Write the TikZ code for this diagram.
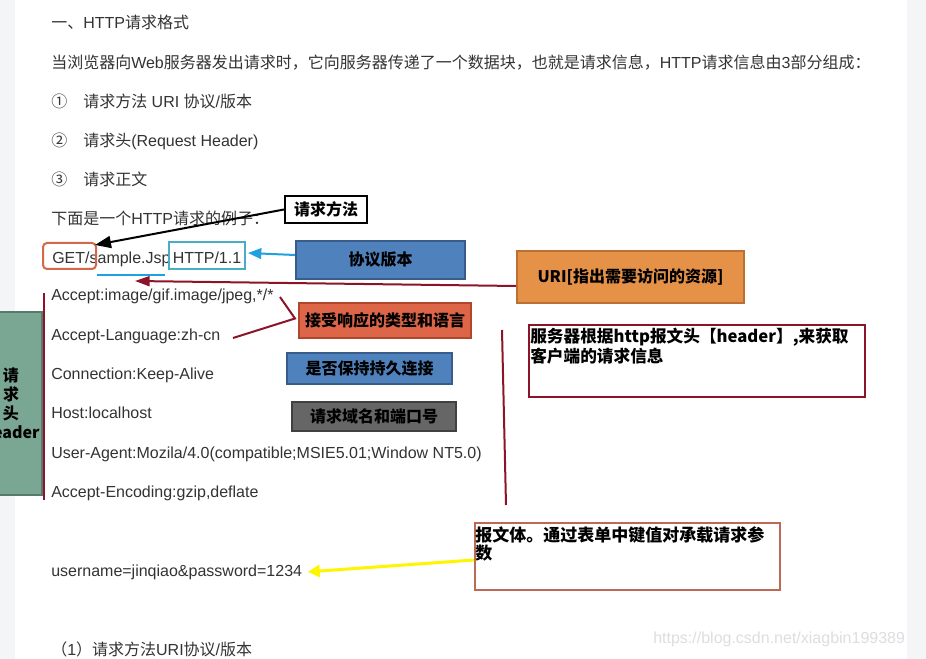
\documentclass[tikz,border=0pt]{standalone}
\usepackage{fontspec}
\setmainfont{Liberation Sans}
\newfontfamily\cjk{Noto Sans CJK SC}
\newcommand{\zh}[1]{{\cjk #1}}
\usetikzlibrary{arrows.meta}
\definecolor{pagegray}{RGB}{244,245,247}
\definecolor{bodytext}{RGB}{51,51,51}
\definecolor{boxblue}{RGB}{79,129,189}
\definecolor{boxblueline}{RGB}{56,93,138}
\definecolor{boxorange}{RGB}{230,145,72}
\definecolor{boxorangeline}{RGB}{185,112,50}
\definecolor{boxred}{RGB}{221,101,72}
\definecolor{boxredline}{RGB}{178,70,45}
\definecolor{boxgray}{RGB}{102,102,102}
\definecolor{boxgrayline}{RGB}{64,64,64}
\definecolor{boxgreen}{RGB}{122,166,148}
\definecolor{boxgreenline}{RGB}{88,122,108}
\definecolor{wine}{RGB}{140,20,40}
\definecolor{arrowblue}{RGB}{30,160,225}
\definecolor{getmarkline}{RGB}{210,105,75}
\definecolor{httpline}{RGB}{75,172,198}
\definecolor{payloadline}{RGB}{190,105,85}
\definecolor{marker}{RGB}{255,245,0}
\definecolor{watermark}{RGB}{222,222,224}
\tikzset{
  txt/.style={anchor=base west,inner sep=0pt,text=bodytext,font=\fontsize{12}{14}\selectfont},
  tagbox/.style={draw,line width=1.5pt,inner sep=0pt,font=\cjk\bfseries\fontsize{12}{14}\selectfont},
  notebox/.style={draw,line width=1.5pt,fill=white,inner sep=0pt},
  notetext/.style={anchor=north west,inner sep=0pt,align=left,font=\cjk\bfseries\fontsize{12.5}{13.5}\selectfont},
  link/.style={line width=1.5pt},
}
\begin{document}
\begin{tikzpicture}[x=0.75pt,y=-0.75pt]
\useasboundingbox (0,0) rectangle (926,659);
\clip (0,0) rectangle (926,659);
\fill[pagegray] (0,0) rectangle (926,659);
\fill[white] (15,0) rectangle (907,659);

\node[txt] (title) at (51,29) {\zh{一、}HTTP\zh{请求格式}};
\node[txt] (intro) at (51,69) {\zh{当浏览器向}Web\zh{服务器发出请求时，它向服务器传递了一个数据块，也就是请求信息，}HTTP\zh{请求信息由}3\zh{部分组成：}};
\node[txt] (n1) at (51,108) {\zh{①}};
\node[txt] (part1) at (83,108) {\zh{请求方法} URI \zh{协议}/\zh{版本}};
\node[txt] (n2) at (51,147) {\zh{②}};
\node[txt] (part2) at (83,147) {\zh{请求头}(Request Header)};
\node[txt] (n3) at (51,186) {\zh{③}};
\node[txt] (part3) at (83,186) {\zh{请求正文}};
\node[txt] (example) at (51,225) {\zh{下面是一个}HTTP\zh{请求的例子：}};
\node[txt] (reqline) at (52,263.5) {GET/sample.Jsp};
\node[txt,anchor=base,draw=httpline,line width=1.5pt,minimum width=57pt,text height=15.75pt,text depth=4.5pt] (http) at (207,263.5) {HTTP/1.1};
\node[draw=getmarkline,line width=1.5pt,rounded corners=3pt,minimum width=39.75pt,minimum height=19.5pt] (getmark) at (69.5,256) {};
\node[txt] (haccept) at (51,301) {Accept:image/gif.image/jpeg,*/*};
\node[txt] (hlang) at (51,341) {Accept-Language:zh-cn};
\node[txt] (hconn) at (51,380) {Connection:Keep-Alive};
\node[txt] (hhost) at (51,419) {Host:localhost};
\node[txt] (hagent) at (51,459) {User-Agent:Mozila/4.0(compatible;MSIE5.01;Window NT5.0)};
\node[txt] (henc) at (51,498) {Accept-Encoding:gzip,deflate};
\node[txt] (user) at (51,576) {username=jinqiao\&password=1234};
\node[txt] (section) at (51,656) {\zh{（}1\zh{）请求方法}URI\zh{协议}/\zh{版本}};
\node[txt,text=watermark,font=\fontsize{12}{14}\selectfont] (mark) at (653,643) {https://blog.csdn.net/xiagbin199389};

\node[tagbox,fill=white,minimum width=61.5pt,minimum height=20.25pt] (method) at (326,209.5) {请求方法};
\node[tagbox,draw=boxblueline,fill=boxblue,minimum width=126.75pt,minimum height=28.5pt] (version) at (380.5,260) {协议版本};
\node[tagbox,draw=boxorangeline,fill=boxorange,minimum width=170.25pt,minimum height=39pt] (uri) at (630.5,277) {URI[指出需要访问的资源]};
\node[tagbox,draw=boxredline,fill=boxred,minimum width=129pt,minimum height=26.25pt] (mime) at (385,320.5) {接受响应的类型和语言};
\node[tagbox,draw=boxblueline,fill=boxblue,minimum width=123.75pt,minimum height=23.25pt] (keep) at (369.5,368.5) {是否保持持久连接};
\node[tagbox,draw=boxgrayline,fill=boxgray,minimum width=123pt,minimum height=21.75pt] (host) at (374,416.5) {请求域名和端口号};
\node[tagbox,draw=boxgreenline,fill=boxgreen,align=center,font=\cjk\bfseries\fontsize{12}{14.25}\selectfont,minimum width=46.5pt,minimum height=137.25pt] (header) at (11,403.5) {请\\求\\头\\header};

\node[notebox,draw=wine,minimum width=252pt,minimum height=54pt] (server) at (697,361) {};
\node[notetext] (servertext) at ([shift={(2,4)}]server.north west) {服务器根据http报文头【header】,来获取\\客户端的请求信息};
\node[notebox,draw=payloadline,minimum width=228.75pt,minimum height=50.25pt] (payload) at (627.5,556.5) {};
\node[notetext,font=\cjk\bfseries\fontsize{12.75}{13.5}\selectfont] (payloadtext) at ([shift={(1,4)}]payload.north west) {报文体。通过表单中键值对承载请求参\\数};

\coordinate (uritip) at (135,281);
\coordinate (mimeA) at (280,297);
\coordinate (mimeB) at (233,338);

\draw[link,-{Triangle[length=12pt,width=9pt]}] (method.west) -- ([shift={(-2,3)}]getmark.north east);
\draw[link,arrowblue,-{Triangle[length=10pt,width=8pt]}] ([shift={(0,-5)}]version.west) -- ([shift={(2,-3)}]http.east);
\draw[link,arrowblue] (97,275) -- (165,275);
\draw[link,wine,-{Triangle[length=11pt,width=7.5pt]}] ([shift={(0,9)}]uri.west) -- (uritip);
\draw[link,wine] (mimeA) -- ([shift={(-3,-2)}]mime.west) -- (mimeB);
\draw[link,wine] (44,293) -- (44,500);
\draw[link,wine] (502,330) -- (506,505);
\draw[line width=2.25pt,marker,-{Triangle[length=9pt,width=9pt]}] ([shift={(0,3.5)}]payload.west) -- ([xshift=4pt]user.east);
\end{tikzpicture}
\end{document}
